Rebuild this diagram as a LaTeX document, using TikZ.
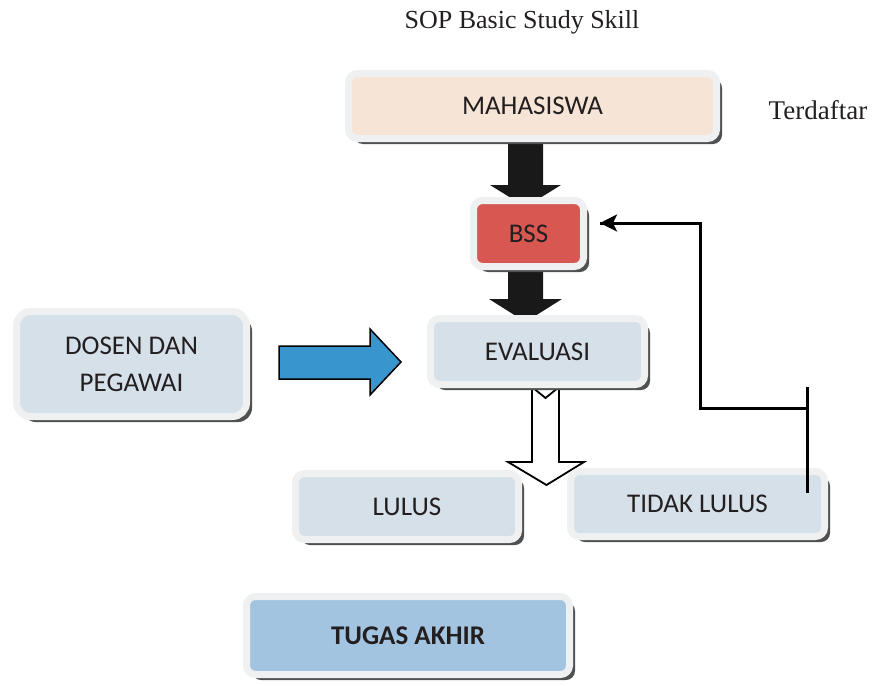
\documentclass[tikz,border=0pt]{standalone}
\usepackage{fontspec}
\setmainfont{Liberation Serif}
\newfontfamily\boxfont{Carlito}
\usetikzlibrary{shadows,arrows.meta}
\definecolor{txt}{RGB}{35,31,32}
\definecolor{rim}{RGB}{238,240,241}
\definecolor{peach}{RGB}{246,229,215}
\definecolor{bssred}{RGB}{216,87,81}
\definecolor{grayblue}{RGB}{213,224,232}
\definecolor{tablue}{RGB}{163,196,224}
\definecolor{arrblue}{RGB}{56,149,206}
\definecolor{shade}{RGB}{80,80,80}
\tikzset{
  card/.style={draw=rim, line width=7pt, rounded corners=9pt, text=txt,
    font=\boxfont\fontsize{27}{32}\selectfont, align=center,
    drop shadow={shadow xshift=5.5pt, shadow yshift=-5.5pt, fill=shade, opacity=1}},
  blockarrow/.style={draw=black, line width=1.8pt, line join=miter},
  feedback/.style={draw=black, line width=3pt},
}
\begin{document}
\begin{tikzpicture}[x=1pt,y=-1pt]
\useasboundingbox (0,0) rectangle (874,685);
% title and side label
\node[text=txt, font=\fontsize{26}{30}\selectfont] (title) at (522,22) {SOP Basic Study Skill};
\node[text=txt, font=\fontsize{27}{31}\selectfont] (terdaftar) at (818,110) {Terdaftar};
% block arrows (behind boxes)
\fill[black!90] (508,140) -- (543,140) -- (543,185) -- (561,185) -- (525.5,207) -- (490,185) -- (508,185) -- cycle;
\fill[black!90] (508,265) -- (543,265) -- (543,299) -- (562,299) -- (525.5,322) -- (489,299) -- (508,299) -- cycle;
\draw[blockarrow, fill=white] (532,387) -- (545.5,398) -- (559,387) -- (559,462) -- (584,462) -- (546.5,485) -- (508,462) -- (532,462) -- cycle;
\draw[blockarrow, fill=arrblue, line width=1.5pt] (279,346) -- (370,346) -- (370,329) -- (401,362) -- (370,395) -- (370,379) -- (279,379) -- cycle;
% boxes
\node[card, fill=peach, minimum width=368pt, minimum height=65pt] (mah) at (532.5,106) {MAHASISWA};
\node[card, fill=bssred, minimum width=110pt, minimum height=66pt] (bss) at (528.5,233.5) {BSS};
\node[card, fill=grayblue, minimum width=214pt, minimum height=66pt] (eva) at (537.5,351.5) {EVALUASI};
\node[card, fill=grayblue, minimum width=230pt, minimum height=105pt, rounded corners=14pt] (dos) at (131.5,364) {DOSEN DAN\\[5pt]PEGAWAI};
\node[card, fill=grayblue, minimum width=223pt, minimum height=66pt] (lul) at (407,506.5) {LULUS};
\node[card, fill=grayblue, minimum width=254pt, minimum height=65pt] (tdk) at (697.5,504) {TIDAK LULUS};
\node[card, fill=tablue, minimum width=323pt, minimum height=78pt, font=\boxfont\bfseries\fontsize{27}{32}\selectfont] (ta) at (408,635.5) {TUGAS AKHIR};
% feedback connector
\coordinate (brtop) at (807,387);
\coordinate (brbot) at (807,493);
\coordinate (brmid) at (807,408);
\coordinate (up) at (700,408);
\coordinate (corner) at (700,223);
\coordinate (tip) at ([xshift=13pt,yshift=10.5pt]bss.east);
\draw[feedback] (brtop) -- (brbot);
\draw[feedback] (brmid) -- (up) -- (corner) -- (corner -| tip);
\draw[feedback, -{Stealth[length=17pt,width=17pt,inset=4pt]}] (corner) -- (tip |- corner);
\end{tikzpicture}
\end{document}
